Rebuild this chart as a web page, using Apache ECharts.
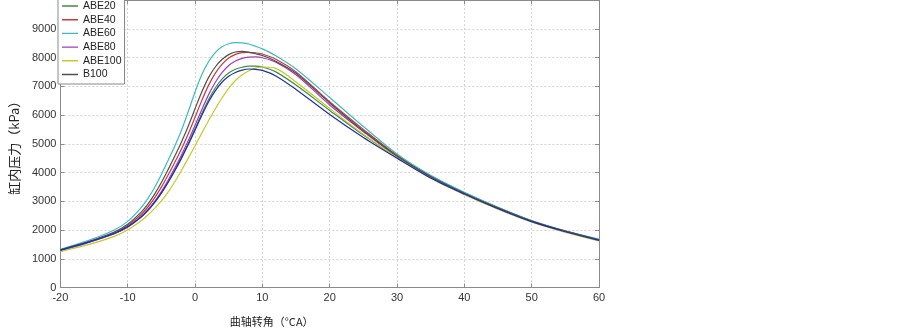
<!DOCTYPE html>
<html><head><meta charset="utf-8">
<script src="https://cdn.jsdelivr.net/npm/echarts@6/dist/echarts.min.js"></script>
<style>html,body{margin:0;padding:0;background:#fff}#c{width:902px;height:333px}</style>
</head><body><div id="c"></div>
<script>
const seriesNames = ['ABE20','ABE40','ABE60','ABE80','ABE100','B100','ABE0'];
const legendNames = ['ABE20','ABE40','ABE60','ABE80','ABE100','B100'];
const xTicks = [-20,-10,0,10,20,30,40,50,60];
const yTicks = [0,1000,2000,3000,4000,5000,6000,7000,8000,9000];

// crank angle samples (°CA)
const xs = [-20,-16,-12,-10,-8,-7,-6,-5,-4,-3,-2,-1,0,1,2,3,4,5,6,7,8,9,10,12,15,20,25,30,35,40,45,50,55,60];

const ABE20  = [1290,1560,1870,2100,2450,2680,2960,3290,3670,4080,4530,5010, 5520,6040,6530,6940,7250,7460,7590,7660,7700,7700,7670, 7500,7040,6160,5300,4520,3820,3250,2740,2290,1940,1640];
const ABE40  = [1290,1570,1900,2160,2540,2800,3120,3490,3910,4360,4830,5350, 5920,6500,7030,7450,7760,7980,8110,8170,8180,8160,8120, 7940,7500,6460,5500,4600,3880,3290,2780,2320,1960,1660];
const ABE60  = [1330,1620,2000,2300,2780,3100,3480,3930,4420,4920,5480,6120, 6800,7400,7850,8170,8370,8480,8520,8510,8470,8390,8300, 8060,7600,6610,5600,4640,3900,3310,2790,2330,1970,1680];
const ABE80  = [1280,1550,1870,2110,2470,2710,3000,3340,3730,4160,4620,5110, 5640,6180,6700,7130,7470,7720,7880,7970,8010,8020,7990, 7840,7400,6350,5420,4550,3840,3260,2750,2300,1950,1650];
const ABE100 = [1250,1480,1780,2000,2320,2520,2750,3010,3320,3680,4080,4500, 4930,5370,5800,6210,6590,6930,7200,7400,7540,7630,7670, 7620,7150,6230,5330,4530,3800,3230,2720,2270,1920,1620];
const B100   = [1300,1580,1930,2200,2620,2900,3250,3650,4100,4570,5070,5620, 6220,6800,7300,7670,7930,8100,8190,8210,8180,8130,8070, 7870,7450,6420,5450,4570,3860,3280,2770,2310,1960,1660];
const ABE0   = [1310,1570,1880,2110,2450,2680,2960,3280,3650,4060,4500,4970, 5470,5980,6450,6840,7140,7350,7480,7560,7600,7590,7550, 7360,6890,6020,5220,4500,3810,3250,2740,2290,1940,1640];

const dataSets = [ABE20, ABE40, ABE60, ABE80, ABE100, B100, ABE0];
const colors = ['#3f8f3f','#c83a3a','#3cbcbc','#a23cc0','#c8c828','#505050','#1f2fa8'];

const chart = echarts.init(document.getElementById('c'), null, {renderer:'canvas'});
const font = 'Liberation Sans, Arial, sans-serif';
const tickLbl = {color:'#333', fontSize:11, fontFamily:font};
const split = {show:true, lineStyle:{color:'#d4d4d4', type:[2,2], width:1}};
const axLine = {show:true, onZero:false, lineStyle:{color:'#8a8a8a', width:1}};
const tick = {show:true, inside:true, length:4, lineStyle:{color:'#8a8a8a'}};
const lineIcon = 'path://M0,0h0.05v0.05H0z M0,4.8h16v1.4H0z M15.95,10.95h0.05v0.05h-0.05z';
chart.setOption({
  animation:false,
  backgroundColor:'#fff',
  grid:{left:55, right:303, top:-21, bottom:45.5, containLabel:false},
  legend:{
    data:legendNames.map(n=>({name:n, icon:lineIcon})), left:58, top:-3.5, orient:'vertical',
    padding:[4,3,4,4], itemGap:2.7, itemWidth:16, itemHeight:11,
    backgroundColor:'#fff', borderColor:'#8a8a8a', borderWidth:1, borderRadius:0,
    textStyle:{color:'#222', fontSize:10.5, fontFamily:font, lineHeight:11}
  },
  xAxis:[{
    type:'value', min:-20, max:60, interval:10, position:'bottom',
    axisLine:axLine, axisTick:tick,
    axisLabel:Object.assign({margin:5}, tickLbl), splitLine:split,
    name:'曲轴转角（°CA）', nameLocation:'middle', nameGap:29,
    nameTextStyle:{color:'#222', fontSize:11, fontFamily:'Noto Sans CJK SC', padding:[0,116,0,0]}
  },{
    type:'value', min:-20, max:60, interval:10, position:'top',
    axisLine:axLine, axisTick:tick, axisLabel:{show:false}, splitLine:{show:false}
  }],
  yAxis:[{
    type:'value', min:0, max:10000, interval:1000, position:'left',
    axisLine:axLine, axisTick:tick,
    axisLabel:Object.assign({margin:4, formatter:v=> yTicks.indexOf(v)>=0 ? String(v) : ''}, tickLbl), splitLine:split,
    name:'缸内压力（kPa）', nameLocation:'middle', nameGap:37, nameRotate:90,
    nameTextStyle:{color:'#222', fontSize:13, fontFamily:'Noto Sans CJK SC', padding:[0,2,0,0]}
  },{
    type:'value', min:0, max:10000, interval:1000, position:'right',
    axisLine:axLine, axisTick:tick, axisLabel:{show:false}, splitLine:{show:false}
  }],
  series: seriesNames.map((n,i)=>({
    name:n, type:'line', data:xs.map((x,j)=>[x, dataSets[i][j]]), smooth:0.3, symbol:'none',
    xAxisIndex:0, yAxisIndex:0,
    lineStyle:{color:colors[i], width:1.2}, itemStyle:{color:colors[i]}, z:2+i
  }))
});
</script></body></html>
